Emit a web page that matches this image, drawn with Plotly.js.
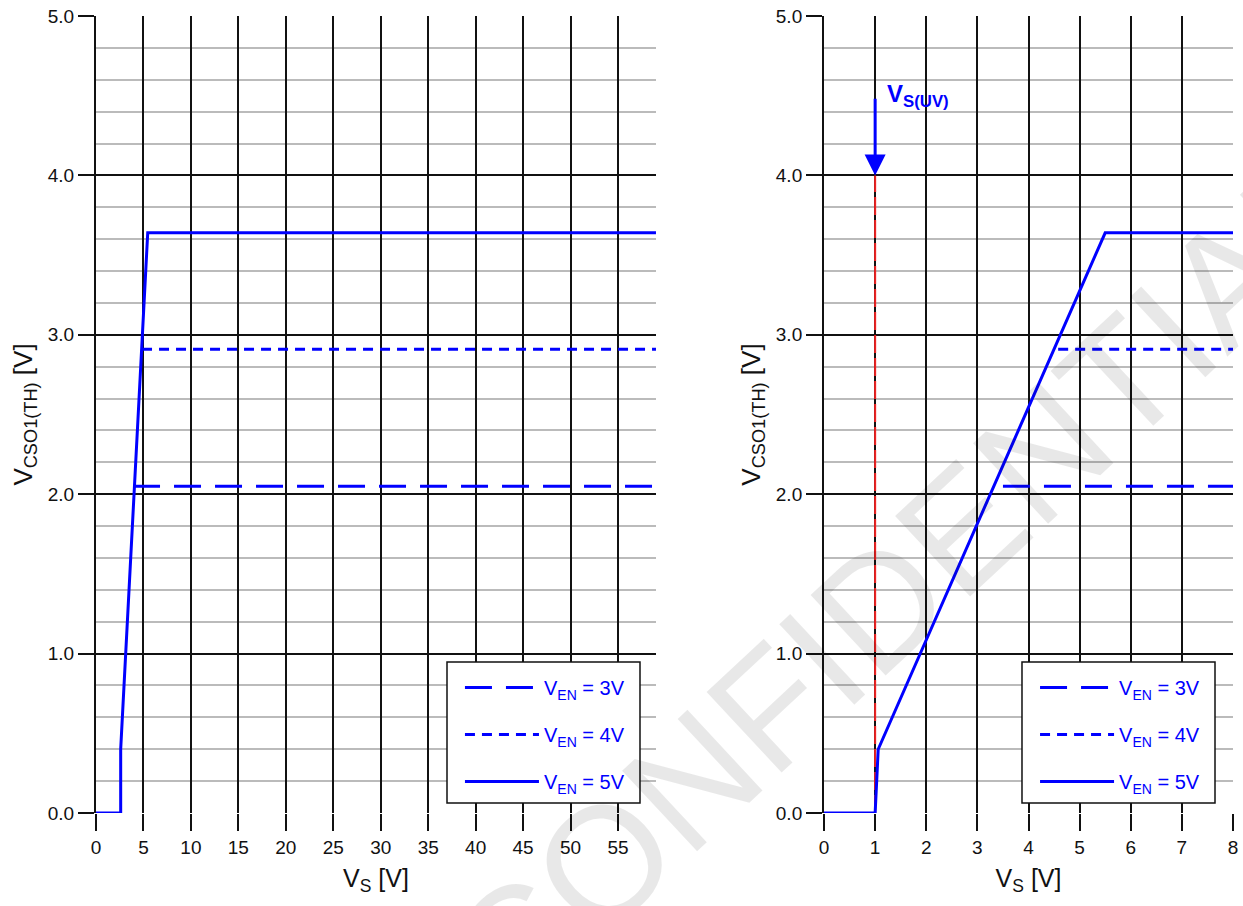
<!DOCTYPE html>
<html><head><meta charset="utf-8">
<script src="https://cdn.plot.ly/plotly-3.0.1.min.js"></script>
<style>html,body{margin:0;padding:0;background:#fff}</style>
</head><body><div id="chart" style="width:1243px;height:906px"></div>
<script>
// ---- Data: left panel (V_S 0–59 V) ----
const leftVs5 = [0, 2.6, 2.6, 5.45, 59];
const leftV5  = [0, 0, 0.40, 3.64, 3.64];
const leftVs4 = [4.85, 59];
const leftV4  = [2.91, 2.91];
const leftVs3 = [3.9, 59];
const leftV3  = [2.05, 2.05];
// ---- Data: right panel (V_S 0–8 V) ----
const rightVs5 = [0, 1.0, 1.06, 5.5, 8];
const rightV5  = [0, 0, 0.40, 3.64, 3.64];
const rightVs4 = [4.58, 8];
const rightV4  = [2.91, 2.91];
const rightVs3 = [3.5, 8];
const rightV3  = [2.05, 2.05];
// undervoltage marker
const uvVs = [1, 1];
const uvV  = [0, 4.0];
const uvArrowTop = 4.49;
// labels
const seriesNames = ['V<sub>EN</sub> = 3V', 'V<sub>EN</sub> = 4V', 'V<sub>EN</sub> = 5V'];
const leftXTicks = [0, 5, 10, 15, 20, 25, 30, 35, 40, 45, 50, 55];
const rightXTicks = [0, 1, 2, 3, 4, 5, 6, 7, 8];
const yTicks = [0, 1, 2, 3, 4, 5];
const yTickText = ['0.0', '1.0', '2.0', '3.0', '4.0', '5.0'];

const BLUE = '#0000ff';
const FONT = 'Liberation Sans, Arial, sans-serif';
const dash3 = '27px,14px';
const dash4 = '10px,7px';

function tr(x, y, name, dash, xa, ya, leg, grp) {
  return {x: x, y: y, name: name, type: 'scatter', mode: 'lines',
    line: {color: BLUE, width: 3, dash: dash}, xaxis: xa, yaxis: ya,
    legend: leg, legendgroup: grp, showlegend: true, hoverinfo: 'skip'};
}

const data = [
  tr(leftVs3, leftV3, seriesNames[0], dash3, 'x', 'y', 'legend', 'a3'),
  tr(leftVs4, leftV4, seriesNames[1], dash4, 'x', 'y', 'legend', 'a4'),
  tr(leftVs5, leftV5, seriesNames[2], 'solid', 'x', 'y', 'legend', 'a5'),
  {x: uvVs, y: uvV, type: 'scatter', mode: 'lines', showlegend: false, hoverinfo: 'skip',
   line: {color: '#ee2222', width: 2, dash: '18px,5px'}, xaxis: 'x2', yaxis: 'y2'},
  tr(rightVs3, rightV3, seriesNames[0], dash3, 'x2', 'y2', 'legend2', 'b3'),
  tr(rightVs4, rightV4, seriesNames[1], dash4, 'x2', 'y2', 'legend2', 'b4'),
  tr(rightVs5, rightV5, seriesNames[2], 'solid', 'x2', 'y2', 'legend2', 'b5')
];

function xAxis(dom, range, ticks, anchor) {
  return {domain: dom, range: range, tickvals: ticks, ticktext: ticks.map(String),
    anchor: anchor, showgrid: true, gridcolor: '#111', gridwidth: 2,
    zeroline: false, showline: false, ticks: 'outside', ticklen: 17, tickwidth: 2,
    tickcolor: '#111', tickfont: {family: FONT, size: 19, color: '#111'},
    title: {text: 'V<sub>S</sub> [V]', font: {family: FONT, size: 25, color: '#111'}, standoff: 12},
    automargin: false, fixedrange: true};
}
function yAxis(anchor) {
  return {domain: [0, 1], range: [0, 5], tickvals: yTicks, ticktext: yTickText, anchor: anchor,
    showgrid: true, gridcolor: '#111', gridwidth: 2, zeroline: false,
    showline: true, linecolor: '#111', linewidth: 2,
    ticks: 'outside', ticklen: 16, tickwidth: 2, tickcolor: '#111',
    tickfont: {family: FONT, size: 19, color: '#111'},
    minor: {dtick: 0.2, showgrid: true, gridcolor: '#bbbbbb', gridwidth: 2, ticks: ''},
    title: {text: 'V<sub>CSO1(TH)</sub> [V]', font: {family: FONT, size: 26, color: '#111'}, standoff: 8},
    automargin: false, fixedrange: true};
}

const legendBase = {
  yanchor: 'top', xanchor: 'left', bgcolor: 'rgba(0,0,0,0)', borderwidth: 0,
  font: {family: FONT, size: 20, color: BLUE}, itemwidth: 74, tracegroupgap: 18,
  traceorder: 'grouped', itemclick: false, itemdoubleclick: false
};

// legend frame boxes (paper fractions of the plot area)
function frame(x0, x1) {
  return {type: 'rect', xref: 'paper', yref: 'paper', x0: x0, x1: x1, y0: 0.01255, y1: 0.18946,
    line: {color: '#111', width: 1.5}, fillcolor: '#fff', layer: 'above'};
}

const layout = {
  width: 1243, height: 906,
  margin: {l: 96, r: 10, t: 16, b: 93},
  paper_bgcolor: '#fff', plot_bgcolor: '#fff',
  showlegend: true,
  xaxis: xAxis([0, 0.4925], [0, 59], leftXTicks, 'y'),
  yaxis: yAxis('x'),
  xaxis2: xAxis([0.6403, 1], [0, 8], rightXTicks, 'y2'),
  yaxis2: yAxis('x2'),
  legend: Object.assign({x: 0.3201, y: 0.1819}, legendBase),
  legend2: Object.assign({x: 0.8259, y: 0.1819}, legendBase),
  shapes: [frame(0.30871, 0.47845), frame(0.81442, 0.98417)],
  annotations: [
    {xref: 'x2', yref: 'y2', x: uvVs[0], y: uvV[1], axref: 'x2', ayref: 'y2',
     ax: uvVs[0], ay: uvArrowTop, text: '', showarrow: true, arrowhead: 2,
     arrowsize: 1.4, arrowwidth: 3, arrowcolor: BLUE, standoff: 0},
    {xref: 'x2', yref: 'y2', x: 1.2, y: 4.5, xanchor: 'left', yanchor: 'middle',
     text: '<b>V<sub>S(UV)</sub></b>', showarrow: false,
     font: {family: FONT, size: 24, color: BLUE}},
    {xref: 'paper', yref: 'paper', x: 0.7098, y: 0.2875, xanchor: 'center', yanchor: 'middle',
     text: 'CONFIDENTIAL', textangle: -43, showarrow: false,
     font: {family: FONT, size: 160, color: 'rgba(0,0,0,0.09)'}}
  ]
};

Plotly.newPlot('chart', data, layout, {staticPlot: true, displayModeBar: false});
</script></body></html>
